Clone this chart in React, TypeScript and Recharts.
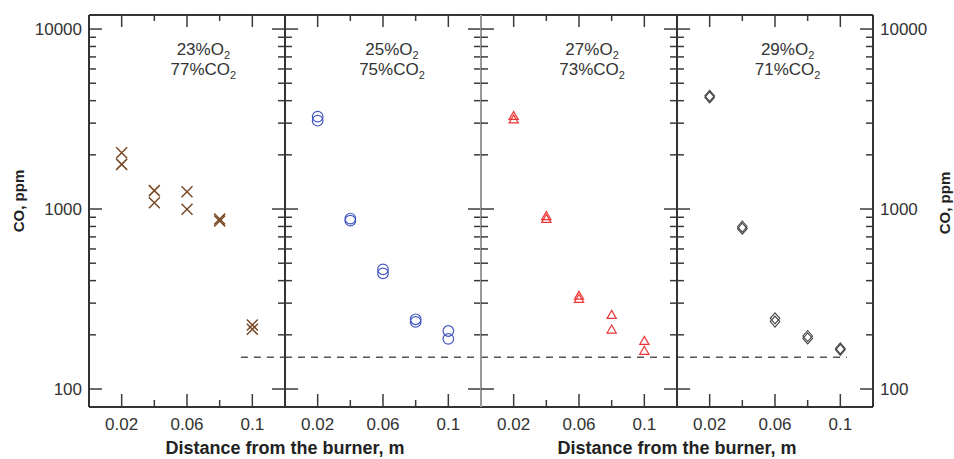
import React from 'react';
import { ScatterChart, Scatter, XAxis, YAxis, ReferenceLine, ReferenceDot } from 'recharts';

// ---------- data ----------
const distances = [0.02, 0.04, 0.06, 0.08, 0.1];

const o2Percent = ['23', '25', '27', '29'];
const co2Percent = ['77', '75', '73', '71'];

const coRunA_23 = [2056, 1265, 1248, 880, 227];
const coRunB_23 = [1771, 1084, 996, 858, 215];
const coRunA_25 = [3260, 885, 462, 244, 210];
const coRunB_25 = [3096, 862, 439, 236, 190];
const coRunA_27 = [3290, 914, 330, 258, 185];
const coRunB_27 = [3150, 882, 317, 214, 163];
const coRunA_29 = [4256, 798, 247, 197, 168];
const coRunB_29 = [4170, 778, 237, 191, 165];

const detectionLimit = 150;
const limitSpans = [
  [0.093, 0.12],
  [0, 0.12],
  [0, 0.12],
  [0, 0.104],
];
const labelX = [0.07, 0.0655, 0.068, 0.0677];

const xTicks = [0.02, 0.04, 0.06, 0.08, 0.1];
const xLabeled = [0.02, 0.06, 0.1];
const yTicks = [100, 200, 300, 400, 500, 600, 700, 800, 900, 1000, 2000, 3000, 4000, 5000, 6000, 7000, 8000, 9000, 10000];
const yLabeled = [100, 1000, 10000];

const X_DOMAIN = [0, 0.12];
const Y_DOMAIN = [Math.pow(10, 1.9), Math.pow(10, 4.078)];

// ---------- styling ----------
const FONT = '"Liberation Sans", Arial, Helvetica, sans-serif';
const TEXT = '#333';
const TICK = '#3a3a3a';
const W = 954;
const H = 459;
const PLOT_W = 196;
const PLOT_LEFTS = [89, 285, 481, 677];

const build = (a: number[], b: number[]) => [
  ...distances.map((d, i) => ({ x: d, y: a[i] })),
  ...distances.map((d, i) => ({ x: d, y: b[i] })),
];

const panelData = [
  build(coRunA_23, coRunB_23),
  build(coRunA_25, coRunB_25),
  build(coRunA_27, coRunB_27),
  build(coRunA_29, coRunB_29),
];

// ---------- markers ----------
const CrossShape = (p: any) => {
  const { cx, cy } = p;
  const s = 5.5;
  return (
    <path
      d={`M${cx - s},${cy - s}L${cx + s},${cy + s}M${cx - s},${cy + s}L${cx + s},${cy - s}`}
      stroke="#7a4a26"
      strokeWidth={1.5}
      fill="none"
    />
  );
};
const CircleShape = (p: any) => (
  <circle cx={p.cx} cy={p.cy} r={5.3} stroke="#4457c2" strokeWidth={1.2} fill="none" />
);
const TriangleShape = (p: any) => {
  const { cx, cy } = p;
  return (
    <path
      d={`M${cx},${cy - 4.5}L${cx + 4.6},${cy + 3.5}L${cx - 4.6},${cy + 3.5}Z`}
      stroke="#ee3535"
      strokeWidth={1.2}
      fill="none"
    />
  );
};
const DiamondShape = (p: any) => {
  const { cx, cy } = p;
  return (
    <path
      d={`M${cx},${cy - 5.5}L${cx + 4.8},${cy}L${cx},${cy + 5.5}L${cx - 4.8},${cy}Z`}
      stroke="#444"
      strokeWidth={1.1}
      fill="none"
    />
  );
};
const shapes = [CrossShape, CircleShape, TriangleShape, DiamondShape];

// ---------- ticks ----------
const isIn = (arr: number[], v: number) => arr.some((a) => Math.abs(a - v) < 1e-9);

const LeftYTick = (p: any) => {
  const { x, y, payload, showLabel } = p;
  const major = isIn(yLabeled, payload.value);
  const len = major ? 13 : 7;
  return (
    <g>
      <line x1={x} x2={x + len} y1={y} y2={y} stroke={TICK} strokeWidth={1.5} />
      {showLabel && major && (
        <text x={x - 7} y={y} dy="0.35em" textAnchor="end" fontSize={17} fill={TEXT} fontFamily={FONT}>
          {payload.value}
        </text>
      )}
    </g>
  );
};
const RightYTick = (p: any) => {
  const { x, y, payload, showLabel } = p;
  const major = isIn(yLabeled, payload.value);
  const len = major ? 13 : 7;
  return (
    <g>
      <line x1={x - len} x2={x} y1={y} y2={y} stroke={TICK} strokeWidth={1.5} />
      {showLabel && major && (
        <text x={x + 7} y={y} dy="0.35em" textAnchor="start" fontSize={17} fill={TEXT} fontFamily={FONT}>
          {payload.value}
        </text>
      )}
    </g>
  );
};
const BottomXTick = (p: any) => {
  const { x, y, payload } = p;
  const major = isIn(xLabeled, payload.value);
  const len = major ? 13 : 7;
  return (
    <g>
      <line x1={x} x2={x} y1={y} y2={y - len} stroke={TICK} strokeWidth={1.5} />
      {major && (
        <text x={x} y={y + 23} textAnchor="middle" fontSize={17} fill={TEXT} fontFamily={FONT}>
          {String(payload.value)}
        </text>
      )}
    </g>
  );
};
const TopXTick = (p: any) => {
  const { x, y, payload } = p;
  const major = isIn(xLabeled, payload.value);
  const len = major ? 12 : 6;
  return <line x1={x} x2={x} y1={y} y2={y + len} stroke={TICK} strokeWidth={1.5} />;
};

// ---------- titles ----------
const xTitle = (props: any) => {
  const vb = props.viewBox;
  return (
    <text
      x={vb.x + vb.width}
      y={vb.y + 47}
      textAnchor="middle"
      fontSize={18}
      fontWeight="bold"
      fill="#222"
      fontFamily={FONT}
    >
      Distance from the burner, m
    </text>
  );
};
const yTitleLeft = (props: any) => {
  const vb = props.viewBox;
  const cx = vb.x + 18.5;
  const cy = vb.y + vb.height / 2 - 10;
  return (
    <text
      x={cx}
      y={cy}
      dy="0.35em"
      transform={`rotate(-90, ${cx}, ${cy})`}
      textAnchor="middle"
      fontSize={15}
      fontWeight="bold"
      fill="#222"
      fontFamily={FONT}
    >
      CO, ppm
    </text>
  );
};
const yTitleRight = (props: any) => {
  const vb = props.viewBox;
  const cx = vb.x + 72;
  const cy = vb.y + vb.height / 2 - 8;
  return (
    <text
      x={cx}
      y={cy}
      dy="0.35em"
      transform={`rotate(-90, ${cx}, ${cy})`}
      textAnchor="middle"
      fontSize={15}
      fontWeight="bold"
      fill="#222"
      fontFamily={FONT}
    >
      CO, ppm
    </text>
  );
};

const makePanelLabel = (i: number) => (props: any) => {
  const vb = props.viewBox;
  const cx = vb.x + vb.width / 2;
  const cy = vb.y + vb.height / 2;
  return (
    <g fontFamily={FONT} fill={TEXT}>
      <text x={cx} y={cy + 26} textAnchor="middle" fontSize={17}>
        {o2Percent[i]}%O<tspan fontSize={11} dy={4}>2</tspan>
      </text>
      <text x={cx} y={cy + 46} textAnchor="middle" fontSize={17}>
        {co2Percent[i]}%CO<tspan fontSize={11} dy={4}>2</tspan>
      </text>
    </g>
  );
};

// ---------- panel ----------
const Panel = ({ i }: { i: number }) => {
  const first = i === 0;
  const last = i === 3;
  const leftW = first ? 89 : 40;
  const plotLeft = PLOT_LEFTS[i];
  const rightW = last ? W - (plotLeft + PLOT_W) : 40;
  const marginLeft = plotLeft - leftW;
  const marginRight = W - (plotLeft + PLOT_W) - rightW;
  const leftLineColor = i === 2 ? '#9a9a9a' : '#333';
  const rightLineColor = i === 1 ? '#9a9a9a' : '#333';
  const Shape = shapes[i];
  const span = limitSpans[i];
  return (
    <div style={{ position: 'absolute', left: 0, top: 0 }}>
      <ScatterChart
        width={W}
        height={H}
        margin={{ top: 0, bottom: 0, left: marginLeft, right: marginRight }}
      >
        <XAxis
          xAxisId="bottom"
          dataKey="x"
          type="number"
          domain={X_DOMAIN}
          allowDataOverflow
          ticks={xTicks}
          interval={0}
          height={52}
          tickSize={0}
          tickMargin={0}
          tickLine={false}
          axisLine={{ stroke: '#333', strokeWidth: 2 }}
          tick={(p: any) => <BottomXTick {...p} />}
          label={i === 0 || i === 2 ? xTitle : undefined}
        />
        <XAxis
          xAxisId="top"
          orientation="top"
          dataKey="x"
          type="number"
          domain={X_DOMAIN}
          allowDataOverflow
          ticks={xTicks}
          interval={0}
          height={15}
          tickSize={0}
          tickMargin={0}
          tickLine={false}
          axisLine={{ stroke: '#333', strokeWidth: 2 }}
          tick={(p: any) => <TopXTick {...p} />}
        />
        <YAxis
          yAxisId="left"
          dataKey="y"
          type="number"
          scale="log"
          domain={Y_DOMAIN}
          allowDataOverflow
          ticks={yTicks}
          interval={0}
          width={leftW}
          tickSize={0}
          tickMargin={0}
          tickLine={false}
          axisLine={{ stroke: leftLineColor, strokeWidth: 2 }}
          tick={(p: any) => <LeftYTick {...p} showLabel={first} />}
          label={first ? yTitleLeft : undefined}
        />
        <YAxis
          yAxisId="right"
          orientation="right"
          dataKey="y"
          type="number"
          scale="log"
          domain={Y_DOMAIN}
          allowDataOverflow
          ticks={yTicks}
          interval={0}
          width={rightW}
          tickSize={0}
          tickMargin={0}
          tickLine={false}
          axisLine={{ stroke: rightLineColor, strokeWidth: 2 }}
          tick={(p: any) => <RightYTick {...p} showLabel={last} />}
          label={last ? yTitleRight : undefined}
        />
        <ReferenceLine
          xAxisId="bottom"
          yAxisId="left"
          segment={[
            { x: span[0], y: detectionLimit },
            { x: span[1], y: detectionLimit },
          ]}
          stroke="#555"
          strokeWidth={1.5}
          strokeDasharray="7 6"
          ifOverflow="visible"
        />
        <ReferenceDot
          xAxisId="bottom"
          yAxisId="left"
          x={labelX[i]}
          y={10000}
          r={1}
          fill="none"
          stroke="none"
          label={makePanelLabel(i)}
        />
        <Scatter
          xAxisId="bottom"
          yAxisId="left"
          data={panelData[i]}
          shape={(p: any) => <Shape {...p} />}
          isAnimationActive={false}
        />
      </ScatterChart>
    </div>
  );
}

export default function App() {
  return (
    <div
      style={{
        position: 'absolute',
        left: 0,
        top: 0,
        width: W,
        height: H,
        background: '#fff',
        fontFamily: FONT,
      }}
    >
      {[0, 1, 2, 3].map((i) => (
        <Panel key={i} i={i} />
      ))}
    </div>
  );
}
